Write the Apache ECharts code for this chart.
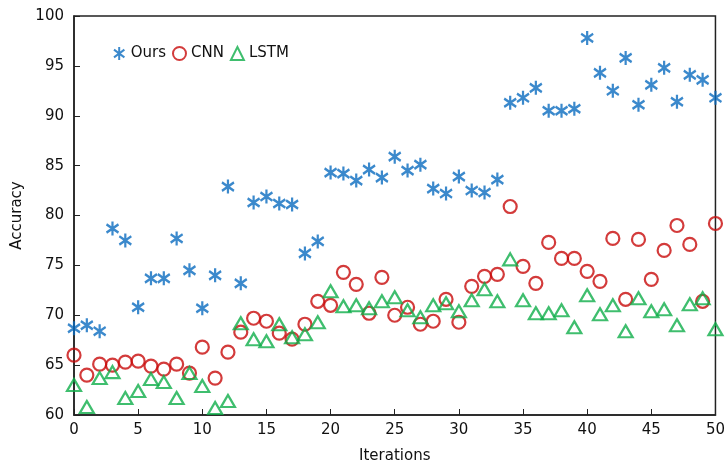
<!DOCTYPE html>
<html>
<head>
<meta charset="utf-8">
<script src="https://cdn.jsdelivr.net/npm/echarts@6/dist/echarts.min.js"></script>
<style>
  html, body { margin: 0; padding: 0; background: #fff; }
  #chart { width: 728px; height: 472px; }
</style>
</head>
<body>
<div id="chart"></div>
<script>
const iterations = Array.from({ length: 51 }, (_, i) => i);

const ours = [
  68.7, 69.0, 68.4, 78.7, 77.5, 70.8, 73.7, 73.7, 77.7, 74.5,
  70.7, 74.0, 82.9, 73.2, 81.3, 81.9, 81.2, 81.1, 76.2, 77.4,
  84.3, 84.2, 83.5, 84.6, 83.8, 85.9, 84.5, 85.1, 82.7, 82.2,
  83.9, 82.5, 82.3, 83.6, 91.3, 91.8, 92.8, 90.5, 90.5, 90.7,
  97.8, 94.3, 92.5, 95.8, 91.1, 93.1, 94.8, 91.4, 94.1, 93.6, 91.8
];
const cnn = [
  66.0, 64.0, 65.1, 65.0, 65.3, 65.4, 64.9, 64.6, 65.1, 64.2,
  66.8, 63.7, 66.3, 68.3, 69.7, 69.4, 68.2, 67.6, 69.1, 71.4,
  71.0, 74.3, 73.1, 70.2, 73.8, 70.0, 70.8, 69.1, 69.4, 71.6,
  69.3, 72.9, 73.9, 74.1, 80.9, 74.9, 73.2, 77.3, 75.7, 75.7,
  74.4, 73.4, 77.7, 71.6, 77.6, 73.6, 76.5, 79.0, 77.1, 71.4, 79.2
];
const lstm = [
  63.0, 60.8, 63.7, 64.3, 61.7, 62.4, 63.6, 63.3, 61.7, 64.2,
  62.9, 60.7, 61.4, 69.2, 67.6, 67.4, 69.1, 67.8, 68.1, 69.3,
  72.4, 70.9, 71.0, 70.7, 71.4, 71.8, 70.5, 69.8, 71.0, 71.2,
  70.4, 71.5, 72.6, 71.4, 75.6, 71.5, 70.2, 70.2, 70.5, 68.8,
  72.0, 70.1, 71.0, 68.4, 71.7, 70.4, 70.6, 69.0, 71.1, 71.7, 68.6
];

// vertical stroke plus an X, like a plotted '*'
const asterisk = "path://M0,-10L0,10M-8,-6L8,6M-8,6L8,-6";
const font = "DejaVu Sans";

const chart = echarts.init(document.getElementById("chart"));

function pairs(values) {
  return values.map((v, i) => [iterations[i], v]);
}

chart.setOption({
  animation: false,
  textStyle: { fontFamily: font },
  grid: { left: 74, right: 10, top: 16, bottom: 57, show: true, borderColor: "#222", borderWidth: 1.5 },
  legend: {
    left: 108,
    top: 41,
    itemGap: 6,
    itemWidth: 13,
    itemHeight: 13,
    textStyle: { fontSize: 15, color: "#111", fontFamily: font },
    data: ["Ours", "CNN", "LSTM"]
  },
  xAxis: {
    type: "value",
    min: 0,
    max: 50,
    interval: 5,
    name: "Iterations",
    nameLocation: "middle",
    nameGap: 34,
    nameTextStyle: { fontSize: 15, color: "#111" },
    axisLine: { lineStyle: { color: "#222", width: 1.5 } },
    axisTick: { inside: true, length: 6, lineStyle: { color: "#222" } },
    axisLabel: { fontSize: 15, color: "#111", margin: 8 },
    splitLine: { show: false }
  },
  yAxis: {
    type: "value",
    min: 60,
    max: 100,
    interval: 5,
    name: "Accuracy",
    nameLocation: "middle",
    nameGap: 46,
    nameTextStyle: { fontSize: 15, color: "#111" },
    axisLine: { show: true, lineStyle: { color: "#222", width: 1.5 } },
    axisTick: { show: true, inside: true, length: 6, lineStyle: { color: "#222" } },
    axisLabel: { fontSize: 15, color: "#111", margin: 10 },
    splitLine: { show: false }
  },
  series: [
    {
      name: "Ours",
      type: "scatter",
      data: pairs(ours),
      symbol: asterisk,
      symbolSize: [12, 14],
      itemStyle: { color: "#0a6cbf", borderColor: "#0a6cbf", borderWidth: 2.4 }
    },
    {
      name: "CNN",
      type: "scatter",
      data: pairs(cnn),
      symbol: "circle",
      symbolSize: 13,
      itemStyle: { color: "rgba(255,255,255,0)", borderColor: "#c80a0a", borderWidth: 2.2 }
    },
    {
      name: "LSTM",
      type: "scatter",
      data: pairs(lstm),
      symbol: "triangle",
      symbolSize: [14, 12],
      itemStyle: { color: "rgba(255,255,255,0)", borderColor: "#0fae4a", borderWidth: 2.2 }
    }
  ]
});
</script>
</body>
</html>
